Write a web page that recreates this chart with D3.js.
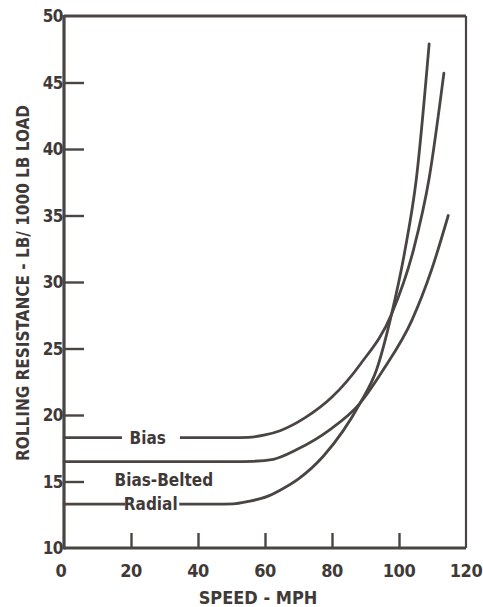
<!DOCTYPE html>
<html>
<head>
<meta charset="utf-8">
<script src="https://cdn.jsdelivr.net/npm/d3@7"></script>
<style>
  body { margin: 0; background: #fff; }
  text { font-family: "DejaVu Sans Condensed", "Liberation Sans Narrow", sans-serif; fill: #3f3a37; font-weight: bold; }
</style>
</head>
<body>
<svg id="chart" width="483" height="607"></svg>
<script>
// axis ticks
const speedTicks = [0, 20, 40, 60, 80, 100, 120]
const resistTicks = [10, 15, 20, 25, 30, 35, 40, 45, 50]

// curves: [speed mph, lb / 1000 lb load]
const bias = [[0,18.3],[50,18.3],[55,18.32],[60,18.5],[64.5,18.82],[72,19.8],[80,21.35],[88.4,23.8],
  [97.8,27.6],[104.3,32.4],[109,37.8],[113.4,45.7]]
const biasBelted = [[0,16.5],[50,16.5],[56.5,16.52],[62.5,16.67],[69.5,17.4],[79.4,18.9],[88.4,20.9],
  [95.3,23.4],[103.8,27.1],[109.7,30.9],[114.7,35.0]]
const radial = [[0,13.3],[45,13.3],[50.5,13.32],[55,13.5],[60.5,13.86],[64.5,14.35],[70,15.2],[77.4,16.9],
  [88.4,20.9],[93.3,23.4],[97.8,27.6],[101.8,32.4],[105.2,37.8],[109,47.9]]

// labels sit in gaps of the curves
const labels = [
  {text: "Bias", x: 25, y: 18.3, gap: [17.3, 34.6]},
  {text: "Bias-Belted", x: 29.8, y: 15.1, gap: null},
  {text: "Radial", x: 25.9, y: 13.3, gap: [18.3, 34.4]}
]

const ink = "#4a4542"
const m = {l: 64, t: 16, r: 17, b: 59}
const W = 483, H = 607

let svg = d3.select("#chart")
let x = d3.scaleLinear().domain([0, 120]).range([m.l, W - m.r])
let y = d3.scaleLinear().domain([10, 50]).range([H - m.b, m.t])

let line = d3.line().x(d => x(d[0])).y(d => y(d[1])).curve(d3.curveMonotoneX)

svg.selectAll("path.curve")
  .data([bias, biasBelted, radial]).enter().append("path")
  .attr("class", "curve")
  .attr("d", line)
  .attr("fill", "none")
  .attr("stroke", ink)
  .attr("stroke-width", 2.8)
  .attr("stroke-linecap", "round")

// white out gaps where the labels go
labels.filter(d => d.gap).forEach(d => {
  svg.append("rect")
    .attr("x", x(d.gap[0])).attr("width", x(d.gap[1]) - x(d.gap[0]))
    .attr("y", y(d.y) - 5).attr("height", 10)
    .attr("fill", "#fff")
})

svg.selectAll("text.lab")
  .data(labels).enter().append("text")
  .attr("class", "lab")
  .attr("x", d => x(d.x)).attr("y", d => y(d.y))
  .attr("dy", "0.36em")
  .attr("text-anchor", "middle")
  .attr("font-size", 17)
  .text(d => d.text)

// frame
let g = svg.append("g").attr("stroke", ink).attr("fill", "none")
g.append("line").attr("x1", x(0)).attr("x2", x(0)).attr("y1", y(50) - 1).attr("y2", y(10) + 1.5).attr("stroke-width", 3.2)
g.append("line").attr("x1", x(0)).attr("x2", x(120)).attr("y1", y(10)).attr("y2", y(10)).attr("stroke-width", 3.2)
g.append("line").attr("x1", x(0)).attr("x2", x(120)).attr("y1", y(50)).attr("y2", y(50)).attr("stroke-width", 3)
g.append("line").attr("x1", x(120)).attr("x2", x(120)).attr("y1", y(50)).attr("y2", y(10)).attr("stroke-width", 2.2)

// inner ticks
let yAxis = d3.axisRight(y).tickValues(resistTicks.slice(1, -1)).tickSize(20).tickFormat("")
let ya = svg.append("g").attr("transform", `translate(${x(0)},0)`).call(yAxis)
ya.select(".domain").remove()
ya.selectAll("line").attr("stroke", ink).attr("stroke-width", 2.4)

let xAxis = d3.axisTop(x).tickValues(speedTicks.slice(1, -1)).tickSize(15).tickFormat("")
let xa = svg.append("g").attr("transform", `translate(0,${y(10)})`).call(xAxis)
xa.select(".domain").remove()
xa.selectAll("line").attr("stroke", ink).attr("stroke-width", 2.4)

// tick labels
svg.selectAll("text.yt")
  .data(resistTicks).enter().append("text")
  .attr("class", "yt")
  .attr("x", x(0) - 1).attr("y", d => y(d))
  .attr("dy", "0.36em")
  .attr("text-anchor", "end")
  .attr("font-size", 17)
  .attr("letter-spacing", -0.5)
  .text(d => d)

svg.selectAll("text.xt")
  .data(speedTicks).enter().append("text")
  .attr("class", "xt")
  .attr("x", d => x(d) + (d === 0 ? -3 : 0)).attr("y", y(10) + 29)
  .attr("text-anchor", "middle")
  .attr("font-size", 18)
  .attr("letter-spacing", -0.5)
  .text(d => d)

// titles
svg.append("text")
  .attr("x", 258).attr("y", 604)
  .attr("text-anchor", "middle")
  .attr("font-size", 18)
  .text("SPEED - MPH")

svg.append("text")
  .attr("transform", "translate(29,283) rotate(-90)")
  .attr("text-anchor", "middle")
  .attr("font-size", 17)
  .text("ROLLING RESISTANCE - LB/ 1000 LB LOAD")
</script>
</body>
</html>
